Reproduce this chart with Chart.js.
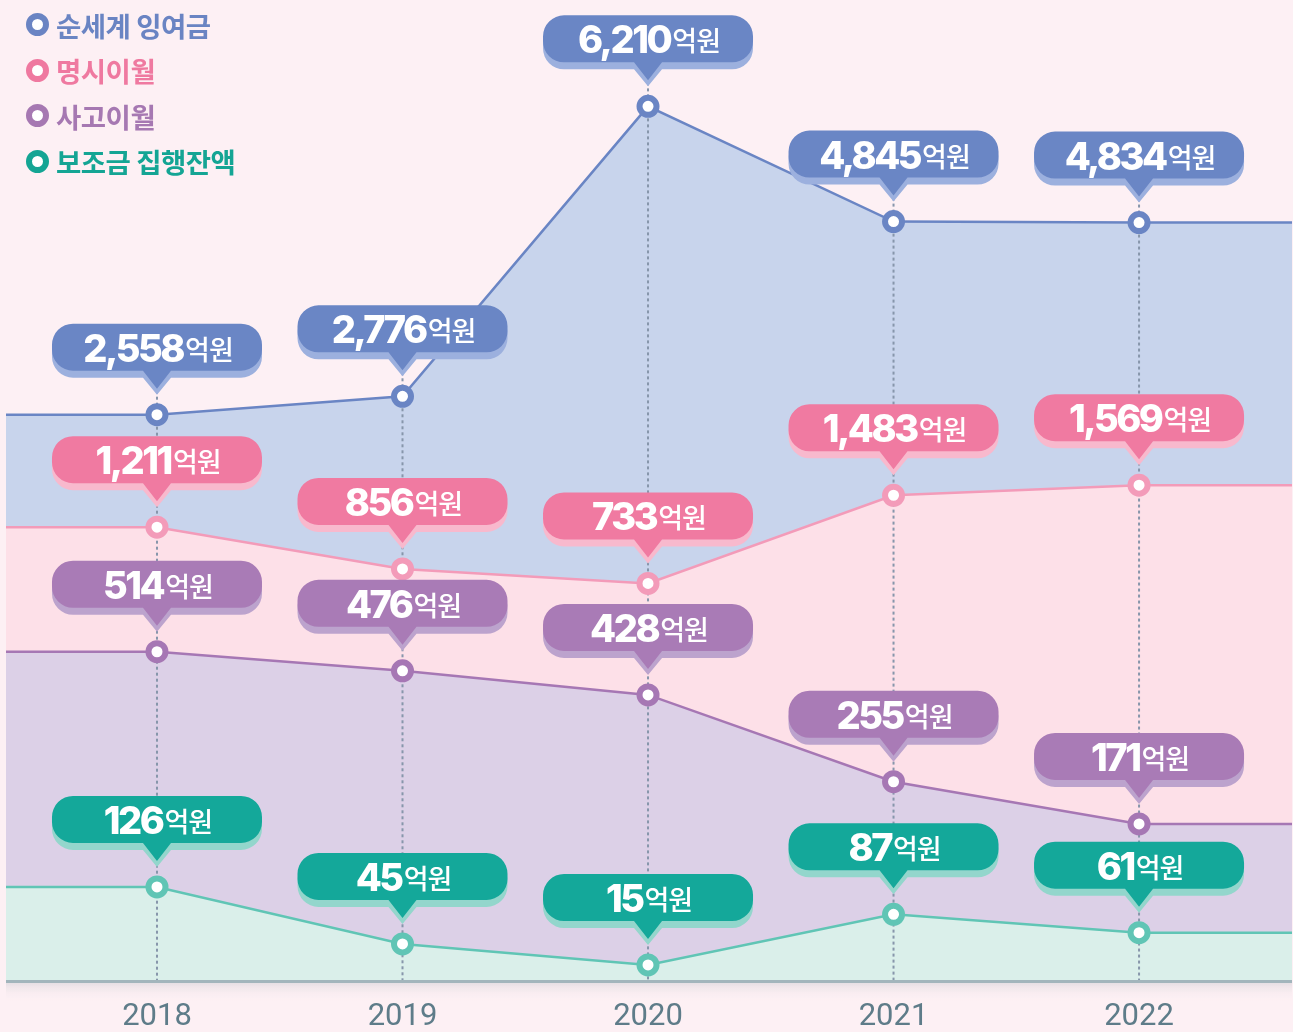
<!DOCTYPE html>
<html>
<head>
<meta charset="utf-8">
<script src="https://cdn.jsdelivr.net/npm/chart.js@4.4.0/dist/chart.umd.min.js"></script>
<style>
  html, body { margin: 0; padding: 0; background: #fdf0f4; }
  #wrap { position: relative; width: 1293px; height: 1032px; }
  #legend { position: absolute; left: 26px; top: 2px; font-family: "Noto Sans CJK KR", "Noto Sans", sans-serif; font-weight: 700; font-size: 27.5px; letter-spacing: -0.5px; }
  #legend div { height: 45.5px; display: flex; align-items: center; }
  #legend span.dot { display: inline-block; width: 11px; height: 11px; border-radius: 50%; border: 6px solid; background: #fff; margin-right: 7px; }
</style>
</head>
<body>
<div id="wrap">
  <canvas id="Chart_main" width="1293" height="1032"></canvas>
  <div id="legend"></div>
</div>
<script>
// DATA
var years = [2018, 2019, 2020, 2021, 2022];
var seriesNames = ['순세계 잉여금', '명시이월', '사고이월', '보조금 집행잔액'];
var surplus = [2558, 2776, 6210, 4845, 4834];
var carryOver = [1211, 856, 733, 1483, 1569];
var accidentCarry = [514, 476, 428, 255, 171];
var subsidyLeft = [126, 45, 15, 87, 61];
var unitLabel = '억원';

// STYLES per series
var lineColors = ['#6a85c4', '#f39bb9', '#a677b4', '#60c5b5'];
var fillColors = ['#c8d4ec', '#fde0e8', '#dcd0e7', '#daefea'];
var boxColors = ['#6a86c5', '#f07aa1', '#a97bb6', '#14a89a'];
var shadowColors = ['#9cb0de', '#f8b9cd', '#bca3cd', '#93d6cc'];
var legendColors = ['#6a84c3', '#ef79a0', '#a678b2', '#14a594'];

var X_MIN = 2017.385, X_MAX = 2022.623;

// flat extension to the edges of the plot
function toPoints(values) {
  var pts = [{ x: X_MIN, y: values[0] }];
  years.forEach(function (yr, i) { pts.push({ x: yr, y: values[i] }); });
  pts.push({ x: X_MAX, y: values[values.length - 1] });
  return pts;
}

var allSeries = [surplus, carryOver, accidentCarry, subsidyLeft];
var axisRanges = [[-4150, 7470], [-2651, 5698], [-142, 1812.5], [-7.8, 1388]];

var datasets = allSeries.map(function (vals, i) {
  return {
    label: seriesNames[i],
    data: toPoints(vals),
    yAxisID: 'y' + i,
    borderColor: lineColors[i],
    borderWidth: 2.5,
    backgroundColor: fillColors[i],
    fill: 'start',
    tension: 0,
    order: 4 - i,
    pointRadius: function (c) { return (c.dataIndex === 0 || c.dataIndex === vals.length + 1) ? 0 : 8.5; },
    pointBackgroundColor: '#ffffff',
    pointBorderColor: lineColors[i],
    pointBorderWidth: 6,
  };
});

// rounded callout box with pointer
function calloutPath(ctx, cx, top, w, h, r, tipY) {
  var l = cx - w / 2, rt = cx + w / 2, b = top + h;
  ctx.beginPath();
  ctx.moveTo(l + r, top);
  ctx.lineTo(rt - r, top);
  ctx.arcTo(rt, top, rt, top + r, r);
  ctx.lineTo(rt, b - r);
  ctx.arcTo(rt, b, rt - r, b, r);
  ctx.lineTo(cx + 14, b);
  ctx.lineTo(cx, tipY);
  ctx.lineTo(cx - 14, b);
  ctx.lineTo(l + r, b);
  ctx.arcTo(l, b, l, b - r, r);
  ctx.lineTo(l, top + r);
  ctx.arcTo(l, top, l + r, top, r);
  ctx.closePath();
}

var NUM_FONT = '800 38px Inter, "Noto Sans CJK KR", sans-serif';
var UNIT_FONT = '500 27px "Noto Sans CJK KR", "Noto Sans", sans-serif';

var guidePlugin = {
  id: 'guides',
  beforeDatasetsDraw: function (chart) {
    var ctx = chart.ctx;
    var top = chart.getDatasetMeta(0);
    var bottom = chart.chartArea.bottom;
    ctx.save();
    ctx.strokeStyle = '#8796ab';
    ctx.lineWidth = 2;
    ctx.setLineDash([3, 3]);
    for (var i = 1; i < top.data.length - 1; i++) {
      var p = top.data[i];
      ctx.beginPath();
      ctx.moveTo(p.x, p.y - 30);
      ctx.lineTo(p.x, bottom);
      ctx.stroke();
    }
    ctx.restore();
  },
  afterDatasetsDraw: function (chart) {
    var ctx = chart.ctx;
    chart.data.datasets.forEach(function (ds, di) {
      var meta = chart.getDatasetMeta(di);
      for (var i = 1; i < meta.data.length - 1; i++) {
        var p = meta.data[i];
        var top = p.y - 91;
        ctx.save();
        ctx.fillStyle = shadowColors[di];
        calloutPath(ctx, p.x, top + 7, 210, 47, 21, p.y - 20);
        ctx.fill();
        ctx.fillStyle = boxColors[di];
        calloutPath(ctx, p.x, top, 210, 47, 21, p.y - 26);
        ctx.fill();

        var num = ds.data[i].y.toLocaleString('en-US');
        ctx.fillStyle = '#ffffff';
        ctx.textBaseline = 'alphabetic';
        ctx.textAlign = 'left';
        ctx.letterSpacing = '-2.5px';
        ctx.font = NUM_FONT;
        var wNum = ctx.measureText(num).width;
        ctx.letterSpacing = '-1px';
        ctx.font = UNIT_FONT;
        var wUnit = ctx.measureText(unitLabel).width;
        var x0 = p.x - (wNum + wUnit) / 2;
        ctx.letterSpacing = '-2.5px';
        ctx.font = NUM_FONT;
        ctx.fillText(num, x0, p.y - 53);
        ctx.letterSpacing = '-1px';
        ctx.font = UNIT_FONT;
        ctx.fillText(unitLabel, x0 + wNum + 2, p.y - 55);
        ctx.restore();
      }
    });
  },
  afterDraw: function (chart) {
    var ctx = chart.ctx;
    var a = chart.chartArea;
    ctx.save();
    var g = ctx.createLinearGradient(0, a.bottom + 2, 0, a.bottom + 20);
    g.addColorStop(0, '#e6dfe4');
    g.addColorStop(1, 'rgba(253,240,244,0)');
    ctx.fillStyle = g;
    ctx.fillRect(a.left, a.bottom + 2, a.right - a.left, 18);
    ctx.fillStyle = '#a2b5bc';
    ctx.fillRect(a.left, a.bottom - 1, a.right - a.left, 3);
    ctx.restore();
  }
};

var scales = {
  x: {
    type: 'linear',
    min: X_MIN,
    max: X_MAX,
    grid: { display: false, drawTicks: false },
    border: { display: false },
    afterBuildTicks: function (scale) { scale.ticks = years.map(function (v) { return { value: v }; }); },
    afterFit: function (scale) { scale.height = 51; },
    ticks: {
      padding: 18,
      color: '#5e7c89',
      font: { family: 'Roboto', size: 31 },
      callback: function (v) { return String(v); },
      maxRotation: 0,
      autoSkip: false,
    }
  }
};
axisRanges.forEach(function (r, i) {
  scales['y' + i] = { type: 'linear', display: false, min: r[0], max: r[1] };
});

var ctx = document.getElementById('Chart_main').getContext('2d');
var chart = new Chart(ctx, {
  type: 'line',
  data: { datasets: datasets },
  options: {
    responsive: false,
    animation: false,
    layout: { padding: { left: 6, right: 1, top: 0, bottom: 0 }, autoPadding: false },
    scales: scales,
    plugins: {
      legend: { display: false },
      tooltip: { enabled: false },
      filler: { drawTime: 'beforeDatasetsDraw' }
    }
  },
  plugins: [guidePlugin]
});

// LEGEND
var legendEl = document.getElementById('legend');
seriesNames.forEach(function (name, i) {
  var row = document.createElement('div');
  row.style.color = legendColors[i];
  var dot = document.createElement('span');
  dot.className = 'dot';
  dot.style.borderColor = legendColors[i];
  row.appendChild(dot);
  row.appendChild(document.createTextNode(name));
  legendEl.appendChild(row);
});
</script>
</body>
</html>
